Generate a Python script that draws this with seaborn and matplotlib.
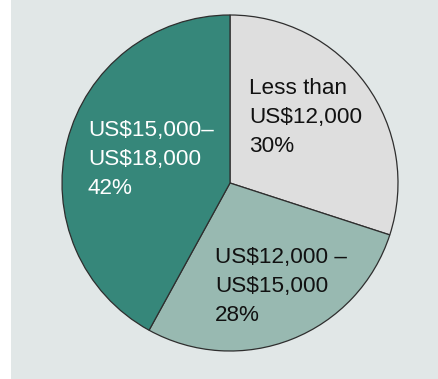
import matplotlib
matplotlib.use("Agg")
import matplotlib.pyplot as plt
import seaborn as sns
from matplotlib.patches import Rectangle

categories = ["Less than\nUS$12,000\n30%", "US$12,000 –\nUS$15,000\n28%", "US$15,000–\nUS$18,000\n42%"]
shares = [30, 28, 42]
slice_colors = ["#dedede", "#98b9b1", "#36877a"]
text_colors = ["#111111", "#111111", "#ffffff"]

sns.set_theme(style="white")
plt.rcParams["font.family"] = ["Liberation Sans", "DejaVu Sans"]

W, H = 438, 379
fig = plt.figure(figsize=(W / 100, H / 100), dpi=100)
fig.patch.set_facecolor("white")
fig.patches.append(Rectangle((11 / W, 0), 1 - 11 / W, 1, transform=fig.transFigure,
                             facecolor="#e1e7e7", edgecolor="none", zorder=-5))

cx, cy, r = 230, 183, 168
ax = fig.add_axes([(cx - r) / W, (H - cy - r) / H, 2 * r / W, 2 * r / H])
ax.set_zorder(2)
ax.set_facecolor("none")
wedges, _ = ax.pie(shares, colors=slice_colors, startangle=90, counterclock=False,
                   radius=1, wedgeprops=dict(edgecolor="#2e2e2e", linewidth=0.9))
ax.set_xlim(-1, 1)
ax.set_ylim(-1, 1)
ax.set_aspect("equal")
ax.axis("off")

# label anchor points (left, top) in pixels
label_pos = [(249, 78), (215, 247), (88, 120)]
for lab, (lx, ly), tc in zip(categories, label_pos, text_colors):
    t = fig.text(lx / W, 1 - ly / H, lab, ha="left", va="top", fontsize=16.2,
                 color=tc, linespacing=1.5)
    t.set_zorder(10)

fig.savefig("out.png", dpi=100, facecolor=fig.get_facecolor())
